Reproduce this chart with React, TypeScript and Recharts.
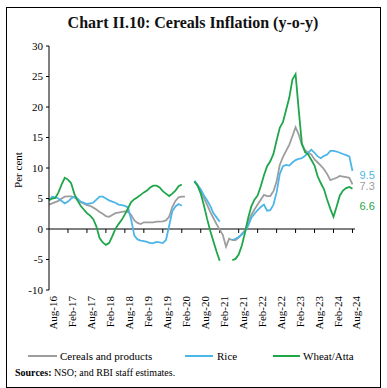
import React from 'react';
import { LineChart, Line, XAxis, YAxis, ReferenceLine, LabelList } from 'recharts';

const monthNames = ['Jan','Feb','Mar','Apr','May','Jun','Jul','Aug','Sep','Oct','Nov','Dec'];
// Aug-16 .. Aug-24 (97 months)
const months: string[] = Array.from({ length: 97 }, (_, i) => {
  const idx = 7 + i;
  return `${monthNames[idx % 12]}-${16 + Math.floor(idx / 12)}`;
});
const xTicks = [0, 6, 12, 18, 24, 30, 36, 42, 48, 54, 60, 66, 72, 78, 84, 90, 96];
const yTicks = [-10, -5, 0, 5, 10, 15, 20, 25, 30];

const cereals: (number | null)[] = [
  4.0, 4.2, 4.4, 4.6, 5.0, 5.3, 5.35, 5.35, 5.2, 4.8, 4.4, 4.2, 3.9, 3.8, 3.5, 3.2, 2.8, 2.5, 2.1, 2.0,
  2.3, 2.6, 2.7, 2.8, 2.9, 2.8, 2.3, 1.4, 1.0, 0.8, 1.1, 1.1, 1.1, 1.1, 1.2, 1.2, 1.25, 1.4, 2.0, 3.6,
  4.6, 5.2, 5.3, 5.3, null, null, 7.8, 7.2, 6.2, 5.1, 4.0, 2.8, 1.8, 0.8, -0.1, -1.0, -2.9, -1.6, -1.8, -1.8,
  -1.4, -0.8, -0.2, 1.0, 2.3, 3.2, 4.0, 4.8, 5.6, 5.4, 5.4, 6.2, 7.8, 10.5, 11.8, 12.8, 13.8, 15.2, 16.7, 15.5,
  13.8, 12.9, 12.5, 12.2, 11.4, 10.9, 10.4, 9.8, 9.0, 8.0, 8.2, 8.4, 8.7, 8.6, 8.5, 8.4, 7.3,
];
const rice: (number | null)[] = [
  4.7, 5.3, 5.2, 5.0, 4.6, 4.2, 4.5, 5.0, 5.3, 5.0, 4.5, 4.3, 4.1, 4.2, 4.3, 4.8, 5.3, 5.3, 5.0, 4.7,
  4.5, 4.3, 4.0, 3.9, 3.8, 3.55, 1.5, -1.1, -1.7, -1.9, -2.0, -2.1, -2.3, -2.3, -2.1, -2.2, -2.3, -1.8, 0.5, 2.9,
  3.7, 4.1, 3.8, null, null, null, 7.9, 7.2, 6.5, 5.5, 4.7, 3.8, 2.6, 1.9, 1.2, null, null, null, -1.8, -1.6,
  -1.3, -0.9, -0.4, 0.5, 1.8, 2.5, 3.1, 3.6, 4.0, 3.0, 3.1, 4.0, 6.0, 9.0, 10.3, 10.5, 10.4, 10.9, 11.3, 11.5,
  11.6, 12.0, 12.5, 13.0, 12.5, 11.9, 11.6, 12.0, 12.2, 12.8, 12.8, 12.7, 12.5, 12.3, 12.1, 11.9, 9.5,
];
const wheat: (number | null)[] = [
  4.7, 5.0, 5.1, 6.0, 7.3, 8.4, 8.1, 7.5, 5.8, 4.7, 3.8, 3.2, 2.6, 2.2, 1.6, 0.4, -1.5, -2.2, -2.6, -2.3,
  -1.2, 0.0, 0.8, 1.5, 2.4, 3.4, 4.4, 4.9, 5.2, 5.6, 6.0, 6.3, 6.8, 7.1, 7.1, 6.8, 6.2, 5.8, 5.4, 5.8,
  6.3, 7.0, 7.3, null, null, null, 7.8, 7.1, 5.8, 3.9, 1.7, -0.3, -2.0, -3.7, -5.2, null, null, null, -5.1, -4.9,
  -4.2, -2.7, -0.6, 1.8, 3.7, 4.8, 5.5, 7.0, 8.8, 10.3, 11.1, 12.3, 14.5, 16.6, 17.5, 19.5, 21.5, 24.5, 25.4, 19.5,
  14.0, 12.6, 12.2, 11.3, 10.4, 8.6, 7.5, 6.5, 4.8, 3.3, 2.0, 3.7, 5.5, 6.3, 6.7, 6.9, 6.6,
];

const GRAY = '#9d9d9d';
const BLUE = '#4db6e8';
const GREEN = '#1fa64a';

const data = months.map((label, i) => ({
  m: i,
  label,
  cereals: cereals[i],
  rice: rice[i],
  wheat: wheat[i],
}));

const SERIF = '"Liberation Serif", "DejaVu Serif", serif';
const SANS = '"Liberation Sans", Arial, sans-serif';

const XTick = (props: any) => {
  const { x, y, payload } = props;
  return (
    <g transform={`translate(${x + 4},${y})`}>
      <text transform="rotate(-90)" textAnchor="end" dominantBaseline="central" fontSize={11} fontFamily={SERIF} fill="#000">
        {months[payload.value]}
      </text>
    </g>
  );
};

const makeEndLabel = (color: string, dx: number, dy: number, text: string) => (props: any) => {
  const { x, y, index } = props;
  if (index !== months.length - 1) return null;
  return (
    <text x={x + dx} y={y + dy} dominantBaseline="central" fontSize={11} fontFamily={SANS} fill={color}>
      {text}
    </text>
  );
};

export default function App() {
  return (
    <div style={{ position: 'absolute', left: 0, top: 0, width: 387, height: 388, background: '#fff' }}>
      <div style={{ position: 'absolute', left: 6, top: 7, width: 375, height: 381, border: '1px solid #000', boxSizing: 'border-box' }} />
      <div style={{ position: 'absolute', left: 0, top: 0 }}>
        <LineChart width={387} height={388} data={data} margin={{ top: 46, right: 32, bottom: 58, left: 0 }}>
          <XAxis
            dataKey="m"
            type="number"
            domain={[0, 96.8]}
            ticks={xTicks}
            interval={0}
            axisLine={false}
            tickLine={false}
            tickSize={0}
            tickMargin={6}
            height={40}
            tick={<XTick />}
          />
          <YAxis
            type="number"
            domain={[-10, 30]}
            ticks={yTicks}
            interval={0}
            width={49}
            axisLine={{ stroke: '#000' }}
            tickLine={{ stroke: '#000' }}
            tickSize={3}
            tickMargin={3}
            tick={{ fontSize: 11, fontFamily: SERIF, fill: '#000' }}
            label={{
              content: (p: any) => {
                const vb = p.viewBox;
                const cx = vb.x + 18;
                const cy = vb.y + vb.height / 2 + 2;
                return (
                  <text x={cx} y={cy} transform={`rotate(-90, ${cx}, ${cy})`} textAnchor="middle" dominantBaseline="central" fontSize={11} fontFamily={SERIF} fill="#000">
                    Per cent
                  </text>
                );
              },
            }}
          />
          <ReferenceLine y={0} stroke="#000" strokeWidth={1} ifOverflow="extendDomain" />
          {xTicks.slice(1).map((t) => (
            <ReferenceLine key={t} segment={[{ x: t, y: 0 }, { x: t, y: -0.65 }]} stroke="#000" strokeWidth={1} />
          ))}
          <Line type="linear" dataKey="cereals" stroke={GRAY} strokeWidth={1.8} dot={false} isAnimationActive={false} connectNulls={false}>
            <LabelList dataKey="cereals" content={makeEndLabel(GRAY, 7, 2, '7.3')} />
          </Line>
          <Line type="linear" dataKey="rice" stroke={BLUE} strokeWidth={1.8} dot={false} isAnimationActive={false} connectNulls={false}>
            <LabelList dataKey="rice" content={makeEndLabel(BLUE, 7, 4, '9.5')} />
          </Line>
          <Line type="linear" dataKey="wheat" stroke={GREEN} strokeWidth={1.8} dot={false} isAnimationActive={false} connectNulls={false}>
            <LabelList dataKey="wheat" content={makeEndLabel(GREEN, 7, 17, '6.6')} />
          </Line>
        </LineChart>
      </div>
      <svg width={387} height={388} style={{ position: 'absolute', left: 0, top: 0, pointerEvents: 'none' }}>
        <text x={193} y={28} textAnchor="middle" fontSize={16} fontWeight="bold" fontFamily={SERIF} fill="#111">
          Chart II.10: Cereals Inflation (y-o-y)
        </text>
        <line x1={28} x2={57} y1={356} y2={356} stroke={GRAY} strokeWidth={2} />
        <text x={60} y={356} dominantBaseline="central" fontSize={11} fontFamily={SERIF} fill="#000">Cereals and products</text>
        <line x1={185} x2={213} y1={356} y2={356} stroke={BLUE} strokeWidth={2} />
        <text x={217} y={356} dominantBaseline="central" fontSize={11} fontFamily={SERIF} fill="#000">Rice</text>
        <line x1={273} x2={300} y1={356} y2={356} stroke={GREEN} strokeWidth={2} />
        <text x={303} y={356} dominantBaseline="central" fontSize={11} fontFamily={SERIF} fill="#000">Wheat/Atta</text>
        <text x={15} y={372} dominantBaseline="central" fontSize={10} fontFamily={SERIF} fill="#000">
          <tspan fontWeight="bold">Sources:</tspan> NSO; and RBI staff estimates.
        </text>
      </svg>
    </div>
  );
}
